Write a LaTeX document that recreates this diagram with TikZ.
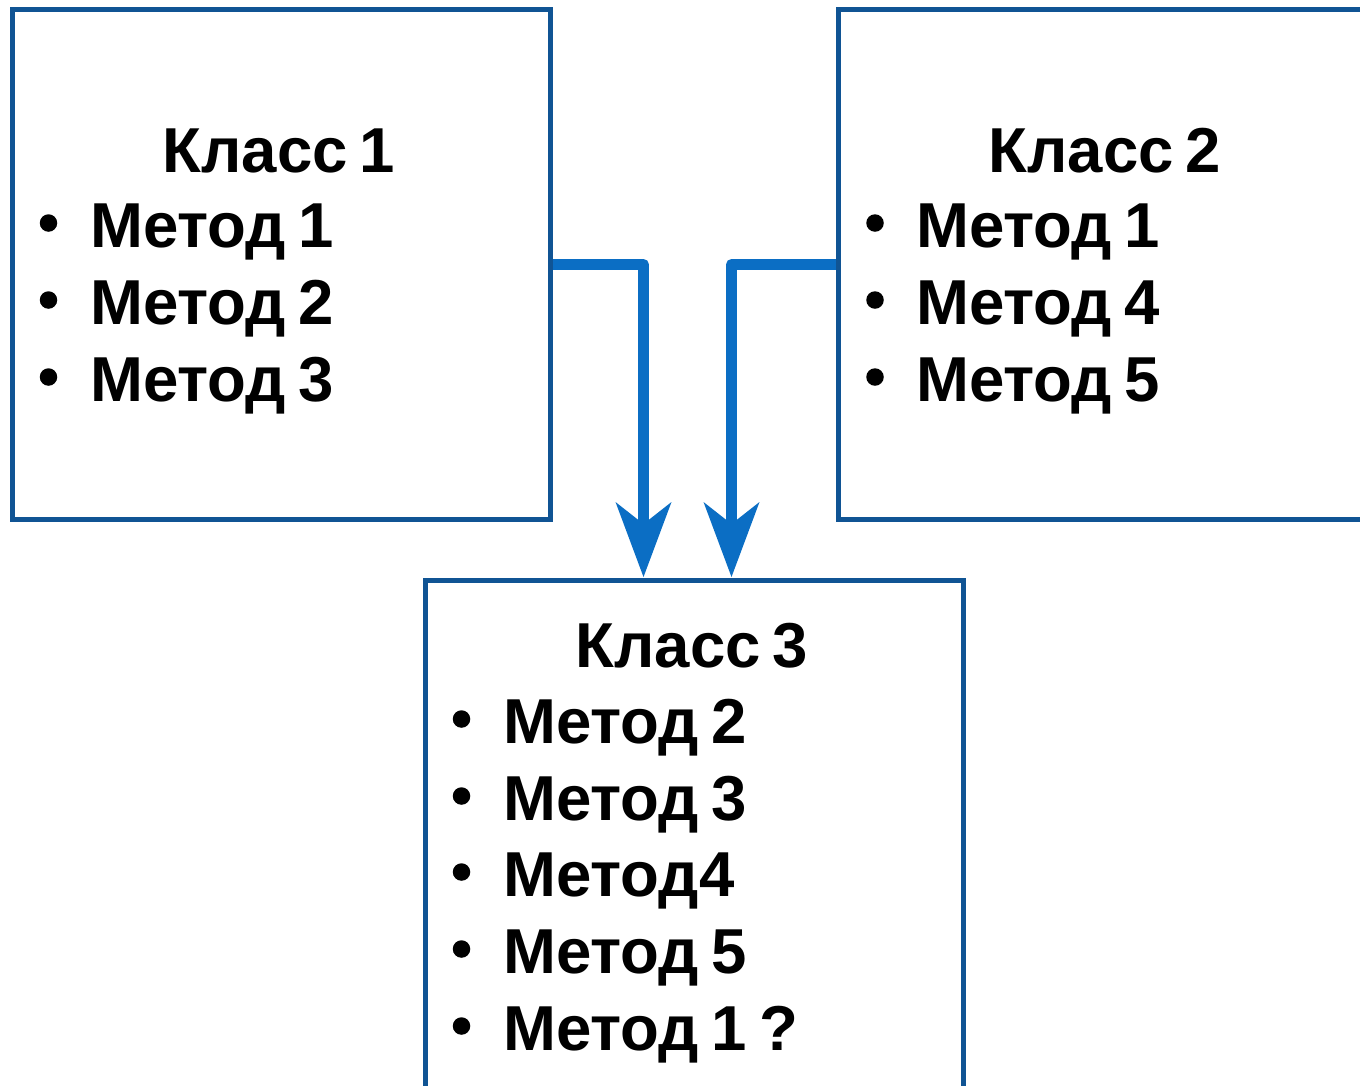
\documentclass[tikz,border=0pt]{standalone}
\usepackage{fontspec}
\setmainfont{Liberation Sans}[WordSpace=0.7]
\usetikzlibrary{arrows.meta}
\definecolor{boxblue}{RGB}{16,84,148}
\definecolor{arrowblue}{RGB}{11,110,196}
\begin{document}
\begin{tikzpicture}[x=1pt,y=-1pt,
  classbox/.style={draw=boxblue, line width=4.5pt, minimum width=538pt,
    minimum height=510pt, inner sep=0pt, anchor=north west},
  bigtext/.style={font=\fontsize{63.5}{77}\selectfont\bfseries, inner sep=0pt},
  title/.style={bigtext, anchor=base},
  item/.style={bigtext, anchor=base west},
  dot/.style={circle, fill=black, inner sep=0pt, minimum size=17.5pt},
  inherit/.style={draw=arrowblue, line width=10.5pt, line join=round,
    -{Stealth[length=75pt, width=56pt, inset=22pt, line width=0pt]}}]
  \useasboundingbox (0,0) rectangle (1360,1085);

  % class boxes
  \node[classbox] (c1) at (10,7) {};
  \node[classbox] (c2) at (836,7) {};
  \node[classbox, minimum height=600pt] (c3) at (423,578) {};

  % Класс 1
  \node[title] (t1) at (279,172) {Класс 1};
  \node[dot] (d11) at (48.5,223) {};
  \node[item] (m11) at (90,247) {Метод 1};
  \node[dot] (d12) at (48.5,300) {};
  \node[item] (m12) at (90,324) {Метод 2};
  \node[dot] (d13) at (48.5,377) {};
  \node[item] (m13) at (90,401) {Метод 3};

  % Класс 2
  \node[title] (t2) at (1105,172) {Класс 2};
  \node[dot] (d21) at (875,223) {};
  \node[item] (m21) at (916,247) {Метод 1};
  \node[dot] (d22) at (875,300) {};
  \node[item] (m22) at (916,324) {Метод 4};
  \node[dot] (d23) at (875,377) {};
  \node[item] (m23) at (916,401) {Метод 5};

  % Класс 3
  \node[title] (t3) at (692,667) {Класс 3};
  \node[dot] (d31) at (461.5,719) {};
  \node[item] (m31) at (503,743) {Метод 2};
  \node[dot] (d32) at (461.5,796) {};
  \node[item] (m32) at (503,820) {Метод 3};
  \node[dot] (d33) at (461.5,872) {};
  \node[item] (m33) at (503,896) {Метод4};
  \node[dot] (d34) at (461.5,949) {};
  \node[item] (m34) at (503,973) {Метод 5};
  \node[dot] (d35) at (461.5,1026) {};
  \node[item] (m35) at (503,1050) {Метод 1 ?};

  % inheritance arrows
  \coordinate (in1) at (643.5,577);
  \coordinate (in2) at (731.5,577);
  \draw[inherit] (c1.east) -| (in1);
  \draw[inherit] (c2.west) -| (in2);
\end{tikzpicture}
\end{document}
